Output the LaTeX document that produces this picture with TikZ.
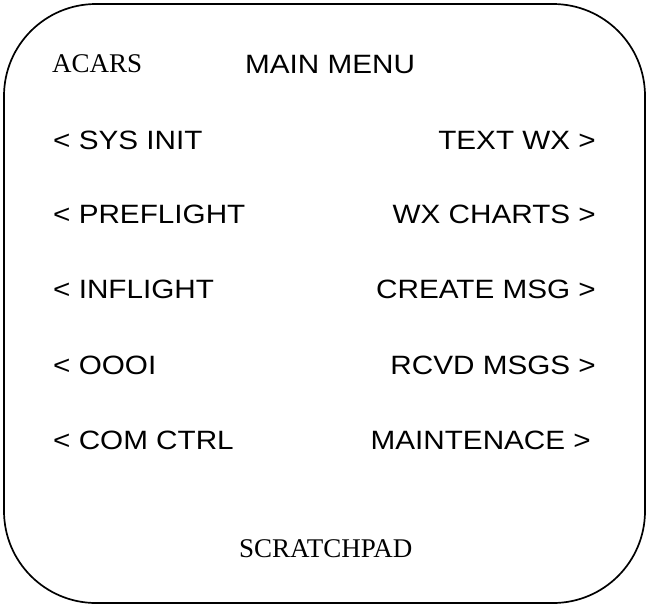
\documentclass[tikz,border=0pt]{standalone}
\usepackage{fontspec}
\setmainfont{Liberation Serif}
\newfontfamily\menusans{Liberation Sans}
\newcommand{\widesans}[1]{\scalebox{1.12}[1]{#1}}
\begin{document}
\begin{tikzpicture}[x=1pt,y=-1pt,
  frame/.style={draw=black,line width=1.7pt,rounded corners=92pt},
  serifitem/.style={inner sep=0pt,anchor=base west,font=\fontsize{27}{31}\selectfont},
  leftitem/.style={inner sep=0pt,anchor=base west,font=\menusans\fontsize{26.5}{30}\selectfont},
  rightitem/.style={inner sep=0pt,anchor=base east,font=\menusans\fontsize{26.5}{30}\selectfont}]
\useasboundingbox (0,0) rectangle (648,606);
\path[frame] (4,4) rectangle (645,603);
% title line
\node[serifitem] (acars) at (52,72) {ACARS};
\node[leftitem] (title) at (245,73) {\widesans{MAIN MENU}};
% left line select keys
\node[leftitem] (l1) at (53,149) {\widesans{< SYS INIT}};
\node[leftitem] (l2) at (53,223) {\widesans{< PREFLIGHT}};
\node[leftitem] (l3) at (53,298) {\widesans{< INFLIGHT}};
\node[leftitem] (l4) at (53,374) {\widesans{< OOOI}};
\node[leftitem] (l5) at (53,449) {\widesans{< COM CTRL}};
% right line select keys
\node[rightitem] (r1) at (596,149) {\widesans{TEXT WX >}};
\node[rightitem] (r2) at (596,223) {\widesans{WX CHARTS >}};
\node[rightitem] (r3) at (596,298) {\widesans{CREATE MSG >}};
\node[rightitem] (r4) at (596,374) {\widesans{RCVD MSGS >}};
\node[rightitem] (r5) at (591,449) {\widesans{MAINTENACE >}};
% scratchpad line
\node[serifitem] (scratch) at (239,557) {SCRATCHPAD};
\end{tikzpicture}
\end{document}
